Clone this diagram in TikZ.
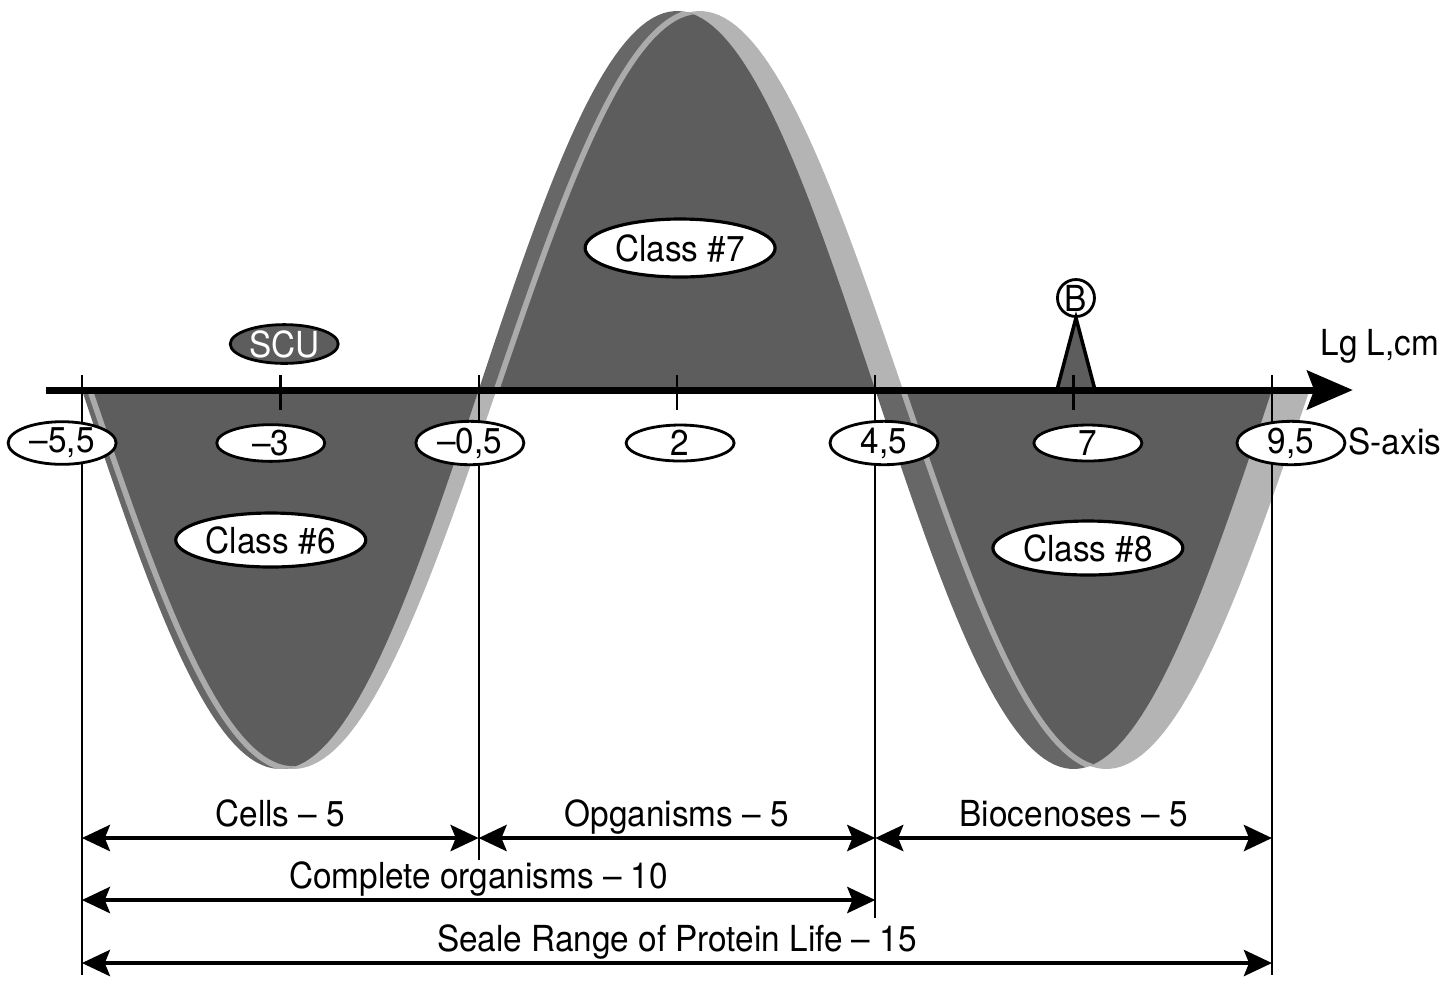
\documentclass[tikz,border=0pt]{standalone}
\usepackage{fontspec}
\setmainfont{TeX Gyre Heros}[FakeStretch=0.93]
\usepackage{tikz}
\usetikzlibrary{positioning,shapes,arrows.meta,calc}
\usepackage{xcolor}

\definecolor{backgray}{HTML}{676767}
\definecolor{frontgray}{HTML}{5D5D5D}
\definecolor{ribbongray}{HTML}{B4B4B4}
\definecolor{ribbonline}{HTML}{ABABAB}

\tikzset{
  tickval/.style={ellipse, draw, fill=white, minimum width=1.08cm,
    minimum height=0.36cm, inner sep=0pt, line width=0.8pt},
  classlbl/.style={ellipse, draw, fill=white, minimum width=1.9cm,
    minimum height=0.54cm, inner sep=0pt, line width=0.9pt},
  dimline/.style={{Stealth[length=8pt,width=7.5pt,inset=1.5pt]}-{Stealth[length=8pt,width=7.5pt,inset=1.5pt]},
    line width=0.9pt},
  guide/.style={line width=0.6pt},
  dimtext/.style={midway, anchor=base, yshift=0.12cm, inner sep=0pt},
}

\begin{document}
\begin{tikzpicture}[x=0.7933cm, y=1cm, font=\fontsize{10.2pt}{12pt}\selectfont]
\useasboundingbox (-6.533,-5.96) rectangle (11.644,3.90);

% ribbon wave: back face, light edge, front face
\fill[backgray] plot[domain=-5.5:9.5, samples=220] (\x, {-3.79*sin(36*(\x+5.5))}) -- cycle;
\fill[ribbongray] plot[domain=-5.4:9.975, samples=220] (\x, {-3.79*sin(180*(\x+5.4)/5.125)}) -- cycle;
\begin{scope}
  \clip plot[domain=-5.5:9.5, samples=220] (\x, {-3.79*sin(36*(\x+5.5))}) -- cycle;
  \filldraw[fill=frontgray, draw=ribbonline, line width=1.6pt]
    plot[domain=-5.4:9.975, samples=220] (\x, {-3.79*sin(180*(\x+5.4)/5.125)}) -- cycle;
\end{scope}

% peak B
\node[circle, draw, fill=white, minimum size=0.37cm, inner sep=0pt, line width=0.8pt] (B) at (7.03,0.92) {B};
\filldraw[fill=frontgray, line width=1pt] (6.79,0) -- (B.south) -- (7.27,0) -- cycle;

% axis
\coordinate (axl) at (-5.95,0);
\coordinate (axr) at (10.52,0);
\draw[line width=2pt, -{Stealth[length=13pt,width=11pt,inset=2pt]}] (axl) -- (axr);
\node (lgl) at (10.86,0.44) {Lg L,cm};
\node (saxis) at (11.05,-0.51) {S-axis};

% guide lines and ticks
\coordinate (tA) at (-5.5,0.15); \coordinate (bA) at (-5.5,-5.85);
\coordinate (tB) at (-0.5,0.15); \coordinate (bB) at (-0.5,-4.70);
\coordinate (tC) at (4.5,0.15);  \coordinate (bC) at (4.5,-5.28);
\coordinate (tD) at (9.5,0.15);  \coordinate (bD) at (9.5,-5.85);
\draw[guide] (tA) -- (bA);
\draw[guide] (tB) -- (bB);
\draw[guide] (tC) -- (bC);
\draw[guide] (tD) -- (bD);
\foreach \s in {-3,2,7}
  \draw[guide, line width=0.8pt] (\s,0.15) -- (\s,-0.2);

% values on the S-axis
\node[tickval] (v1) at (-5.75,-0.53) {--5,5};
\node[tickval] (v2) at (-3.12,-0.53) {--3};
\node[tickval] (v3) at (-0.61,-0.53) {--0,5};
\node[tickval] (v4) at (2.04,-0.53) {2};
\node[tickval] (v5) at (4.61,-0.53) {4,5};
\node[tickval] (v6) at (7.18,-0.53) {7};
\node[tickval] (v7) at (9.74,-0.53) {9,5};

\node[tickval, fill=frontgray, text=white] (scu) at (-2.95,0.46) {SCU};

% classes
\node[classlbl, minimum height=0.58cm] (c7) at (2.04,1.42) {Class \#7};
\node[classlbl] (c6) at (-3.12,-1.50) {Class \#6};
\node[classlbl] (c8) at (7.18,-1.58) {Class \#8};

% ranges
\coordinate (rowa) at (0,-4.48);
\coordinate (rowb) at (0,-5.10);
\coordinate (rowc) at (0,-5.73);
\draw[dimline] (bA |- rowa) -- node[dimtext] (cells) {Cells -- 5} (bB |- rowa);
\draw[dimline] (bB |- rowa) -- node[dimtext] (orgs) {Opganisms -- 5} (bC |- rowa);
\draw[dimline] (bC |- rowa) -- node[dimtext] (bioc) {Biocenoses -- 5} (bD |- rowa);
\draw[dimline] (bA |- rowb) -- node[dimtext] (compl) {Complete organisms -- 10} (bC |- rowb);
\draw[dimline] (bA |- rowc) -- node[dimtext] (range) {Seale Range of Protein Life -- 15} (bD |- rowc);
\end{tikzpicture}
\end{document}
